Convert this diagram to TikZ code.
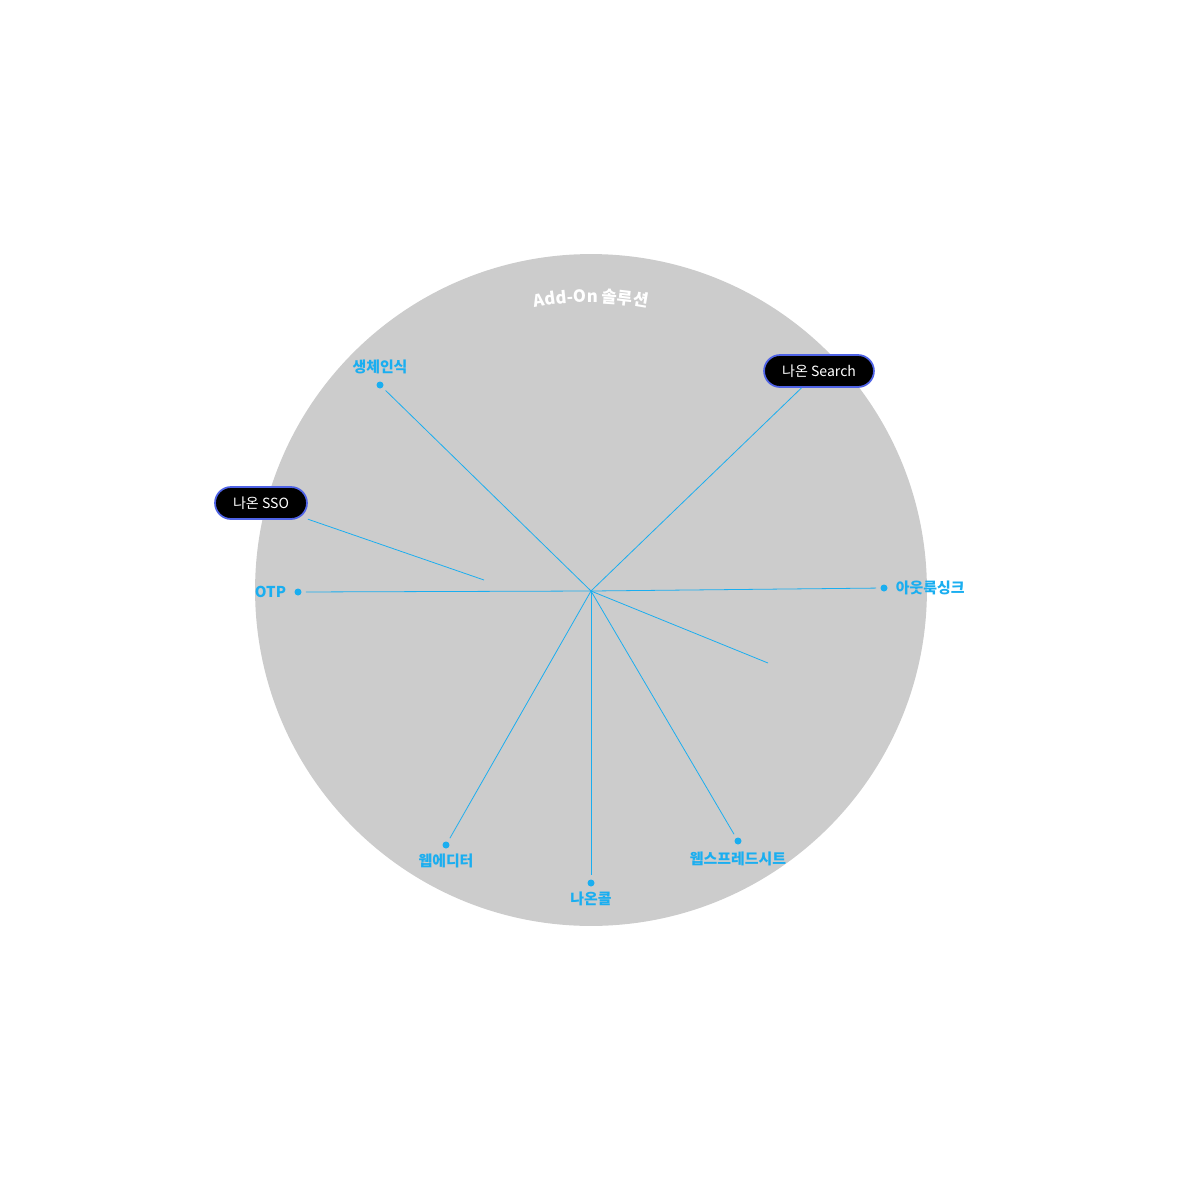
\documentclass[tikz,border=0pt]{standalone}
\usepackage{fontspec}
\setmainfont{Noto Sans CJK KR}
\usetikzlibrary{positioning, decorations.text}
\definecolor{skyblue}{HTML}{1AAEF0}
\definecolor{disc}{HTML}{CCCCCC}
\definecolor{rim}{HTML}{4F63E6}
\tikzstyle{dot} = [circle, fill=skyblue, inner sep=0pt, minimum size=0.14cm]
\tikzstyle{itemtext} = [text=skyblue, font=\fontsize{8.5}{10}\selectfont\bfseries, inner sep=1pt]
\tikzstyle{pill} = [rectangle, rounded corners=0.32cm, minimum height=0.64cm, inner xsep=0.36cm, fill=black, draw=rim, line width=1pt, text=white, font=\fontsize{8}{9}\selectfont]
\tikzstyle{spoke} = [skyblue, line width=0.45pt]

\begin{document}
\begin{tikzpicture}[x=0.02cm, y=-0.02cm, node distance=0.1cm]
    \useasboundingbox (0,0) rectangle (1180,1180);
    \node (disc) [circle, fill=disc, minimum size=13.44cm, inner sep=0pt] at (591,590) {};
    % title along the upper arc
    \begin{scope}[shift={(591,590)}, x=1cm, y=1cm]
        \path[decorate, decoration={text along path, text align=center,
            text color=white, text format delimiters={|}{|},
            text={|\fontsize{9.5}{11}\selectfont\bfseries|Add-On 솔루션}}]
            (105:5.76cm) arc[start angle=105, end angle=75, radius=5.76cm];
    \end{scope}
    \coordinate (hub) at (591,591);
    \node (bio) [dot] at (380,385) {};
    \node (otp) [dot] at (298,592) {};
    \node (outlook) [dot] at (884,588) {};
    \node (editor) [dot] at (446,845) {};
    \node (call) [dot] at (591,883) {};
    \node (sheet) [dot] at (738,841) {};
    \node (search) [pill] at (819,371) {나온 Search};
    \node (sso) [pill] at (261,503) {나온 SSO};
    \node (biotxt) [itemtext, above=of bio] {생체인식};
    \node (otptxt) [itemtext, left=0.12cm of otp] {OTP};
    \node (outlooktxt) [itemtext, right=0.12cm of outlook] {아웃룩싱크};
    \node (editortxt) [itemtext, below=0.06cm of editor] {웹에디터};
    \node (calltxt) [itemtext, below=0.06cm of call] {나온콜};
    \node (sheettxt) [itemtext, below=0.1cm of sheet] {웹스프레드시트};
    \coordinate (ssoend) at (484,580);
    \coordinate (freeend) at (768,663);
    \draw[spoke] (sso)--(ssoend);
    \draw[spoke] (hub)--(search);
    \draw[spoke] (hub)--(freeend);
    \foreach \leaf in {bio, otp, outlook, editor, call, sheet}
        \draw[spoke, shorten >=0.08cm] (hub)--(\leaf);
\end{tikzpicture}
\end{document}
